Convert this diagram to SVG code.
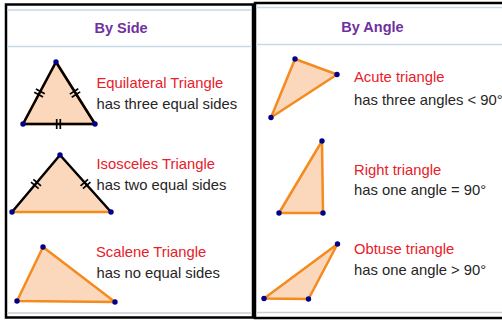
<svg xmlns="http://www.w3.org/2000/svg" width="502" height="320" viewBox="0 0 502 320">
<style>
.hd{font-family:"Liberation Sans",Arial,sans-serif;font-weight:bold;font-size:14.5px;fill:#7030A0}
.t1{font-family:"Liberation Sans",Arial,sans-serif;font-size:14.8px;fill:#E8202A}
.t2{font-family:"Liberation Sans",Arial,sans-serif;font-size:14.8px;fill:#262626}
.tri{fill:#FBD8BC;stroke:#F58A1F;stroke-width:2.5;stroke-linejoin:round}
.blk{fill:none;stroke:#000;stroke-width:2.5;stroke-linejoin:round}
.dot{fill:#00008B}
.tk line{stroke:#000;stroke-width:1.7}
.sep{stroke:#C5D9E8;stroke-width:1.5}
.box{fill:#fff;stroke:#000;stroke-width:2.5}
</style>
<defs>
<g id="tick" class="tk"><line x1="-1.8" y1="-5" x2="-1.8" y2="5"/><line x1="1.8" y1="-5" x2="1.8" y2="5"/></g>
<circle id="v" r="2.7" class="dot"/>
</defs>
<rect width="502" height="320" fill="#fff"/>
<rect class="box" x="255" y="3" width="252" height="315"/>
<rect class="box" x="6" y="4.5" width="247" height="313"/>
<line class="sep" x1="7" y1="10" x2="252" y2="10"/>
<line class="sep" x1="7" y1="46.5" x2="252" y2="46.5"/>
<line class="sep" x1="256" y1="7.5" x2="502" y2="7.5"/>
<line class="sep" x1="256" y1="44.5" x2="502" y2="44.5"/>
<line x1="7" y1="313" x2="252" y2="313" stroke="#C8CDD4" stroke-width="1.5"/>
<line x1="256" y1="312.5" x2="502" y2="312.5" stroke="#C8CDD4" stroke-width="1.5"/>
<text class="hd" x="121" y="33" text-anchor="middle">By Side</text>
<text class="hd" x="372.5" y="32" text-anchor="middle">By Angle</text>

<g id="equilateral">
<polygon class="tri" points="56,62 23,124 95,124" stroke="none"/>
<polygon class="blk" points="56,62 23,124 95,124"/>
<use href="#tick" transform="translate(39.5,93) rotate(-62)"/>
<use href="#tick" transform="translate(75,93) rotate(57.8)"/>
<use href="#tick" transform="translate(58.5,124)"/>
<use href="#v" x="56" y="62"/><use href="#v" x="23" y="124"/><use href="#v" x="95" y="124"/>
<text class="t1" x="96.5" y="88">Equilateral Triangle</text>
<text class="t2" x="96.5" y="109">has three equal sides</text>
</g>

<g id="isosceles">
<polygon points="60,155 12,212 111,212" fill="#FBD8BC"/>
<line x1="12" y1="212" x2="111" y2="212" stroke="#F58A1F" stroke-width="2.5"/>
<polyline class="blk" points="12,212 60,155 111,212"/>
<use href="#tick" transform="translate(36,184) rotate(-49.9)"/>
<use href="#tick" transform="translate(85.5,184) rotate(48.2)"/>
<use href="#v" x="60" y="155"/><use href="#v" x="12" y="212"/><use href="#v" x="111" y="212"/>
<text class="t1" x="96.5" y="169">Isosceles Triangle</text>
<text class="t2" x="96.5" y="190">has two equal sides</text>
</g>

<g id="scalene">
<polygon class="tri" points="43,247 17,301 115,302"/>
<use href="#v" x="43" y="247"/><use href="#v" x="17" y="301"/><use href="#v" x="115" y="302"/>
<text class="t1" x="96" y="257">Scalene Triangle</text>
<text class="t2" x="96.5" y="278">has no equal sides</text>
</g>

<g id="acute">
<polygon class="tri" points="295,59 337,74.5 271,117.5"/>
<use href="#v" x="295" y="59"/><use href="#v" x="337" y="74.5"/><use href="#v" x="271" y="117.5"/>
<text class="t1" x="354" y="82">Acute triangle</text>
<text class="t2" x="354" y="105">has three angles &lt; 90°</text>
</g>

<g id="right">
<polygon class="tri" points="322,141 279,213 323,213"/>
<use href="#v" x="322" y="141"/><use href="#v" x="279" y="213"/><use href="#v" x="323" y="213"/>
<text class="t1" x="354" y="175">Right triangle</text>
<text class="t2" x="354" y="195">has one angle = 90°</text>
</g>

<g id="obtuse">
<polygon class="tri" points="337.5,244 264,298.5 308.5,299"/>
<use href="#v" x="337.5" y="244"/><use href="#v" x="264" y="298.5"/><use href="#v" x="308.5" y="299"/>
<text class="t1" x="354" y="254">Obtuse triangle</text>
<text class="t2" x="354" y="275">has one angle &gt; 90°</text>
</g>
</svg>
